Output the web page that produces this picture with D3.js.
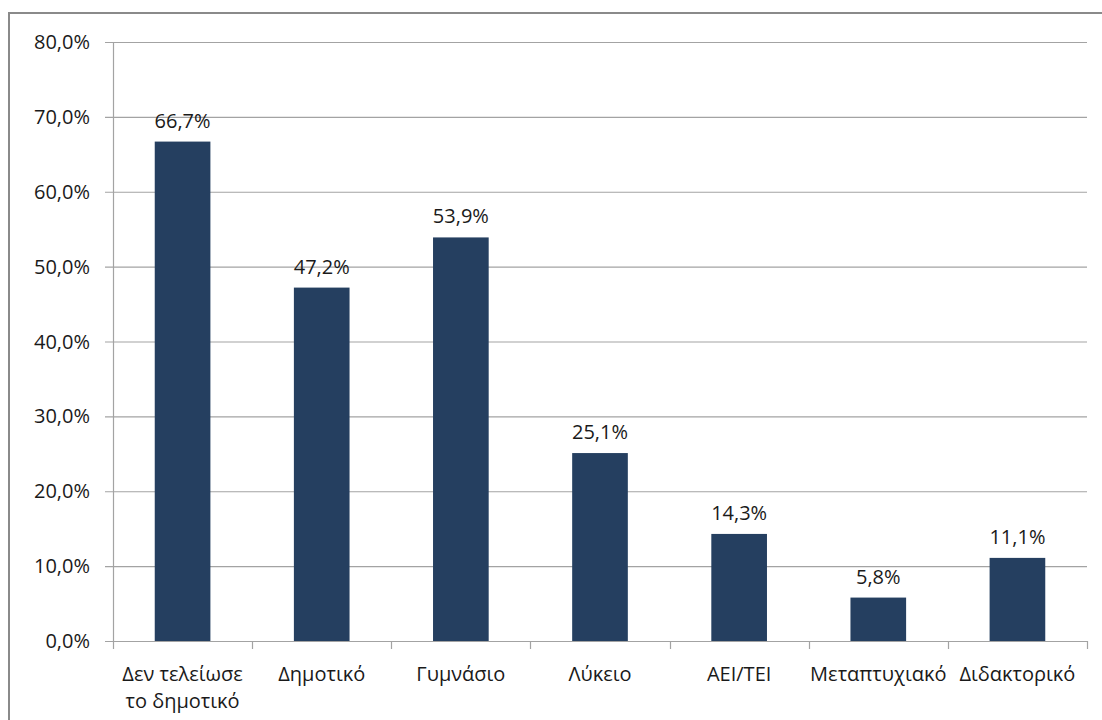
<!DOCTYPE html>
<html>
<head>
<meta charset="utf-8">
<script src="https://cdn.jsdelivr.net/npm/d3@7"></script>
<style>
  html, body { margin: 0; padding: 0; background: #ffffff; }
  svg { display: block; }
  text { font-family: "Open Sans", "Noto Sans", sans-serif; fill: #1a1a1a; }
</style>
</head>
<body>
<svg id="chart" width="1102" height="720"></svg>
<script>
const categories = [
  ["Δεν τελείωσε", "το δημοτικό"],
  ["Δημοτικό"],
  ["Γυμνάσιο"],
  ["Λύκειο"],
  ["ΑΕΙ/ΤΕΙ"],
  ["Μεταπτυχιακό"],
  ["Διδακτορικό"]
];
const values = [66.7, 47.2, 53.9, 25.1, 14.3, 5.8, 11.1];
const yTicks = [0, 10, 20, 30, 40, 50, 60, 70, 80];

const svg = d3.select("#chart");
const W = 1102, H = 720;
const margin = { left: 113, right: 15, top: 42, bottom: 79 };
const FS = 20;

// outer chart border
svg.append("rect")
  .attr("x", 9).attr("y", 13)
  .attr("width", W + 10).attr("height", H + 10)
  .attr("fill", "#ffffff")
  .attr("stroke", "#8a8a8a").attr("stroke-width", 2);

const keys = categories.map((c, i) => i);
const x = d3.scaleBand()
  .domain(keys)
  .range([margin.left, W - margin.right])
  .paddingInner(0.6).paddingOuter(0.3);
const xAxisScale = d3.scaleBand().domain(keys).range([margin.left, W - margin.right]).padding(0);

const y = d3.scaleLinear().domain([0, 80]).range([H - margin.bottom, margin.top]);

const fmt = v => d3.format(".1f")(v).replace(".", ",") + "%";

// gridlines
svg.append("g")
  .selectAll("line").data(yTicks).join("line")
  .attr("x1", margin.left - 8).attr("x2", W - margin.right)
  .attr("y1", d => y(d) + 0.5).attr("y2", d => y(d) + 0.5)
  .attr("stroke", "#a3a3a3").attr("stroke-width", 1.2);

// y axis line
svg.append("line")
  .attr("x1", margin.left + 0.5).attr("x2", margin.left + 0.5)
  .attr("y1", y(80)).attr("y2", y(0))
  .attr("stroke", "#a3a3a3").attr("stroke-width", 1.2);

// y labels
svg.append("g")
  .selectAll("text").data(yTicks).join("text")
  .attr("x", 90).attr("y", d => y(d))
  .attr("dy", "0.35em")
  .attr("text-anchor", "end")
  .attr("font-size", FS)
  .text(d => fmt(d));

// x axis ticks (category boundaries)
const bounds = keys.map(k => xAxisScale(k)).concat([W - margin.right]);
svg.append("g")
  .selectAll("line").data(bounds).join("line")
  .attr("x1", d => Math.round(d) + 0.5).attr("x2", d => Math.round(d) + 0.5)
  .attr("y1", y(0)).attr("y2", y(0) + 8)
  .attr("stroke", "#a3a3a3").attr("stroke-width", 1.2);

// bars
svg.append("g")
  .selectAll("rect").data(values).join("rect")
  .attr("x", (d, i) => x(i))
  .attr("width", x.bandwidth())
  .attr("y", d => y(d))
  .attr("height", d => y(0) - y(d))
  .attr("fill", "#253f60");

// value labels
svg.append("g")
  .selectAll("text").data(values).join("text")
  .attr("x", (d, i) => x(i) + x.bandwidth() / 2)
  .attr("y", d => y(d) - 14)
  .attr("text-anchor", "middle")
  .attr("font-size", FS)
  .text(d => fmt(d));

// category labels
const catG = svg.append("g");
categories.forEach((lines, i) => {
  const cx = xAxisScale(i) + xAxisScale.bandwidth() / 2;
  const t = catG.append("text")
    .attr("x", cx)
    .attr("y", 681)
    .attr("text-anchor", "middle")
    .attr("font-size", FS);
  lines.forEach((ln, j) => {
    t.append("tspan")
      .attr("x", cx)
      .attr("y", 681 + j * 27)
      .text(ln);
  });
});
</script>
</body>
</html>
